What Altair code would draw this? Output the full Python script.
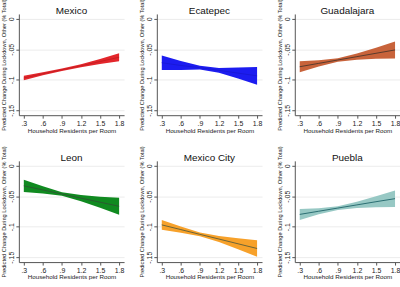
import json
import altair as alt
import pandas as pd

CITIES = ["Mexico", "Ecatepec", "Guadalajara", "Leon", "Mexico City", "Puebla"]
FILL = ["#e3262b", "#1c1cf0", "#c8633b", "#108a20", "#f7a12a", "#97c8c4"]
LINE = ["#c81e22", "#1818d8", "#5a3a2c", "#2a5a30", "#6a6438", "#2a6e72"]

XS = [0.3, 0.6, 0.9, 1.2, 1.5, 1.8]
MID = [
    [-0.097, -0.090, -0.0835, -0.077, -0.070, -0.063],
    [-0.072, -0.0765, -0.080, -0.0845, -0.089, -0.0935],
    [-0.0785, -0.073, -0.0675, -0.062, -0.0565, -0.051],
    [-0.033, -0.0397, -0.0464, -0.0531, -0.0598, -0.0665],
    [-0.097, -0.1047, -0.1125, -0.1202, -0.128, -0.1357],
    [-0.0798, -0.0746, -0.0694, -0.0642, -0.059, -0.054],
]
UPPER = [
    [-0.0935, -0.0875, -0.0815, -0.0745, -0.066, -0.0565],
    [-0.060, -0.069, -0.077, -0.0805, -0.080, -0.079],
    [-0.0695, -0.068, -0.0645, -0.057, -0.0475, -0.037],
    [-0.023, -0.0337, -0.0434, -0.0481, -0.0508, -0.0525],
    [-0.089, -0.0997, -0.1095, -0.1152, -0.119, -0.1222],
    [-0.0708, -0.0696, -0.0664, -0.0592, -0.050, -0.0405],
]
LOWER = [
    [-0.1005, -0.0925, -0.0855, -0.0795, -0.074, -0.0695],
    [-0.084, -0.084, -0.083, -0.0885, -0.098, -0.108],
    [-0.0875, -0.078, -0.0705, -0.067, -0.0655, -0.065],
    [-0.043, -0.0457, -0.0494, -0.0581, -0.0688, -0.0805],
    [-0.105, -0.1097, -0.1155, -0.1252, -0.137, -0.1492],
    [-0.0888, -0.0796, -0.0724, -0.0692, -0.068, -0.0675],
]

XTICKS = [0.3, 0.6, 0.9, 1.2, 1.5, 1.8]
XLABELS = [".3", ".6", ".9", "1.2", "1.5", "1.8"]
YTICKS = [0, -0.05, -0.1, -0.15]
YLABELS = ["0", "-.05", "-.1", "-.15"]

X_TITLE = "Household Residents per Room"
Y_TITLE = "Predicted Change During Lockdown, Other (% Total)"

FONT = "Liberation Sans"
W, H = 106, 102

xlab = f"{json.dumps(XLABELS)}[indexof({json.dumps(XTICKS)}, datum.value)]"
ylab = f"{json.dumps(YLABELS)}[indexof({json.dumps(YTICKS)}, datum.value)]"

AX_X = dict(values=XTICKS, labelExpr=xlab, title=X_TITLE, grid=False,
            labelFontSize=7, titleFontSize=6.3, labelPadding=1,
            titlePadding=1, tickSize=3, labelFont=FONT, titleFont=FONT,
            titleFontWeight="normal", domainColor="#555", tickColor="#555",
            labelColor="#222", titleColor="#222", labelFlush=False,
            labelOverlap=False)
AX_Y = dict(values=YTICKS, labelExpr=ylab, title=Y_TITLE, grid=True,
            gridColor="#ececec", labelFontSize=7, titleFontSize=5.7,
            labelAngle=-90, labelAlign="center", labelBaseline="bottom",
            labelPadding=1, titlePadding=1, tickSize=3, labelFont=FONT,
            titleFont=FONT, titleFontWeight="normal", domainColor="#555",
            tickColor="#555", labelColor="#222", titleColor="#222",
            labelOverlap=False)


def panel(i):
    df = pd.DataFrame({"x": XS, "mid": MID[i], "lo": LOWER[i], "hi": UPPER[i]})
    xs = alt.Scale(domain=[0.222, 1.878], nice=False, zero=False)
    ys = alt.Scale(domain=[-0.158, 0.008], nice=False, zero=False)
    band = alt.Chart(df).mark_area(color=FILL[i], opacity=1).encode(
        x=alt.X("x:Q", scale=xs, axis=alt.Axis(**AX_X)),
        y=alt.Y("lo:Q", scale=ys, axis=alt.Axis(**AX_Y)),
        y2="hi:Q",
    )
    line = alt.Chart(df).mark_line(color=LINE[i], strokeWidth=1).encode(
        x=alt.X("x:Q", scale=xs, axis=alt.Axis(**AX_X)),
        y=alt.Y("mid:Q", scale=ys, axis=alt.Axis(**AX_Y)),
    )
    return alt.layer(band, line).properties(
        width=W, height=H,
        title=alt.TitleParams(CITIES[i], fontSize=10, font=FONT,
                              fontWeight="normal", color="#111", offset=3,
                              dy=20),
    )


chart = alt.concat(*[panel(i) for i in range(6)], columns=3,
                   spacing={"row": 46, "column": 33},
                   bounds="flush").properties(
    padding={"left": 0, "top": -3, "right": 0, "bottom": 0},
    background="white",
).configure_view(stroke=None)

chart.save("out.html", embed_options={"renderer": "svg", "actions": False})
